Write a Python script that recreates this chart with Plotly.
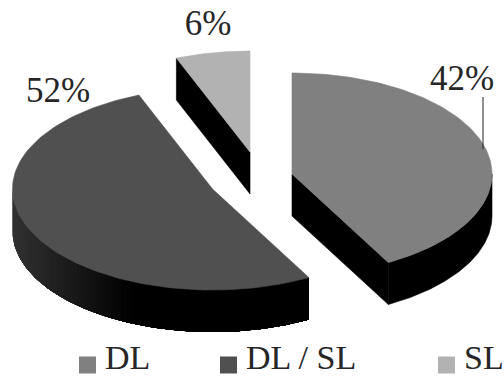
import math
import plotly.graph_objects as go

# Share of each group, in percent
categories = ["DL", "DL / SL", "SL"]
shares = [42, 52, 6]
top_colors = ["#808080", "#505050", "#b2b2b2"]

# Drawing geometry of the tilted disc, in canvas units
RADIUS = 200
TILT = 0.505
DEPTH = 42
WIDTH, HEIGHT = 504, 380
APEXES = {"DL": (292, 174), "DL / SL": (212.5, 189), "SL": (250, 152)}


def rim(cx, cy, a0, a1, n=120, drop=0):
    # Points along the projected rim between two clockwise-from-north angles
    pts = []
    for i in range(n + 1):
        a = a0 + (a1 - a0) * i / n
        pts.append((cx + RADIUS * math.sin(a), cy - RADIUS * TILT * math.cos(a) + drop))
    return pts


def polygon(fig, pts, color, line_width=0.6):
    xs = [p[0] for p in pts] + [pts[0][0]]
    ys = [p[1] for p in pts] + [pts[0][1]]
    fig.add_trace(go.Scatter(x=xs, y=ys, mode="lines", fill="toself", fillcolor=color,
                             line=dict(color=color, width=line_width), hoverinfo="skip",
                             showlegend=False))


def shade(x):
    # Side-wall tone: black at the front, lifting to dark grey at the far left
    v = int(max(0, 50 * (130 - x) / 118))
    return f"rgb({v},{v},{v})"


fig = go.Figure()

start = 0.0
for name, share, color in zip(categories, shares, top_colors):
    end = start + share / 100 * 2 * math.pi
    cx, cy = APEXES[name]

    # Side wall along the visible front of the rim, painted from the left edge
    # inward so that each band overlaps the next and no seams show
    lo, hi = max(start, math.pi / 2), min(end, 3 * math.pi / 2)
    if hi > lo:
        if name == "DL":
            polygon(fig, rim(cx, cy, lo, hi) + rim(cx, cy, hi, lo, drop=DEPTH), "#000000")
        else:
            steps = 70
            for i in range(steps):
                a0 = hi - (hi - lo) * i / steps
                tone = shade(cx + RADIUS * math.sin(a0))
                polygon(fig, rim(cx, cy, a0, lo) + rim(cx, cy, lo, a0, drop=DEPTH), tone, 0)

    # Cut face that looks towards the viewer
    if name == "DL":
        p = rim(cx, cy, end, end, n=1)[0]
    elif name == "SL":
        p = rim(cx, cy, start, start, n=1)[0]
    else:
        p = None
    if p is not None:
        polygon(fig, [(cx, cy), p, (p[0], p[1] + DEPTH), (cx, cy + DEPTH)], "#000000")

    # Top surface of the slice
    polygon(fig, [(cx, cy)] + rim(cx, cy, start, end), color)
    start = end

# Leader line for the DL label
fig.add_trace(go.Scatter(x=[483, 483], y=[97, 149], mode="lines",
                         line=dict(color="#222222", width=1), hoverinfo="skip", showlegend=False))

# Percentage labels
fig.add_trace(go.Scatter(x=[462, 58, 208], y=[81, 93, 26], mode="text",
                         text=[f"{s}%" for s in shares], textposition="middle center",
                         textfont=dict(family="Liberation Serif", size=35, color="#262626"),
                         hoverinfo="skip", showlegend=False))

# Legend row
fig.add_trace(go.Scatter(x=[87.5, 228.5, 446.5], y=[365] * 3, mode="markers",
                         marker=dict(symbol="square", size=17, color=top_colors),
                         hoverinfo="skip", showlegend=False))
fig.add_trace(go.Scatter(x=[105, 246, 464], y=[360] * 3, mode="text",
                         text=categories, textposition="middle right",
                         textfont=dict(family="Liberation Serif", size=34, color="#262626"),
                         hoverinfo="skip", showlegend=False))

fig.update_xaxes(range=[0, WIDTH], visible=False, fixedrange=True)
fig.update_yaxes(range=[HEIGHT, 0], visible=False, fixedrange=True)
fig.update_layout(width=WIDTH, height=HEIGHT, margin=dict(l=0, r=0, t=0, b=0),
                  paper_bgcolor="white", plot_bgcolor="white", showlegend=False)

fig.write_html("out.html", config=dict(displayModeBar=False))
